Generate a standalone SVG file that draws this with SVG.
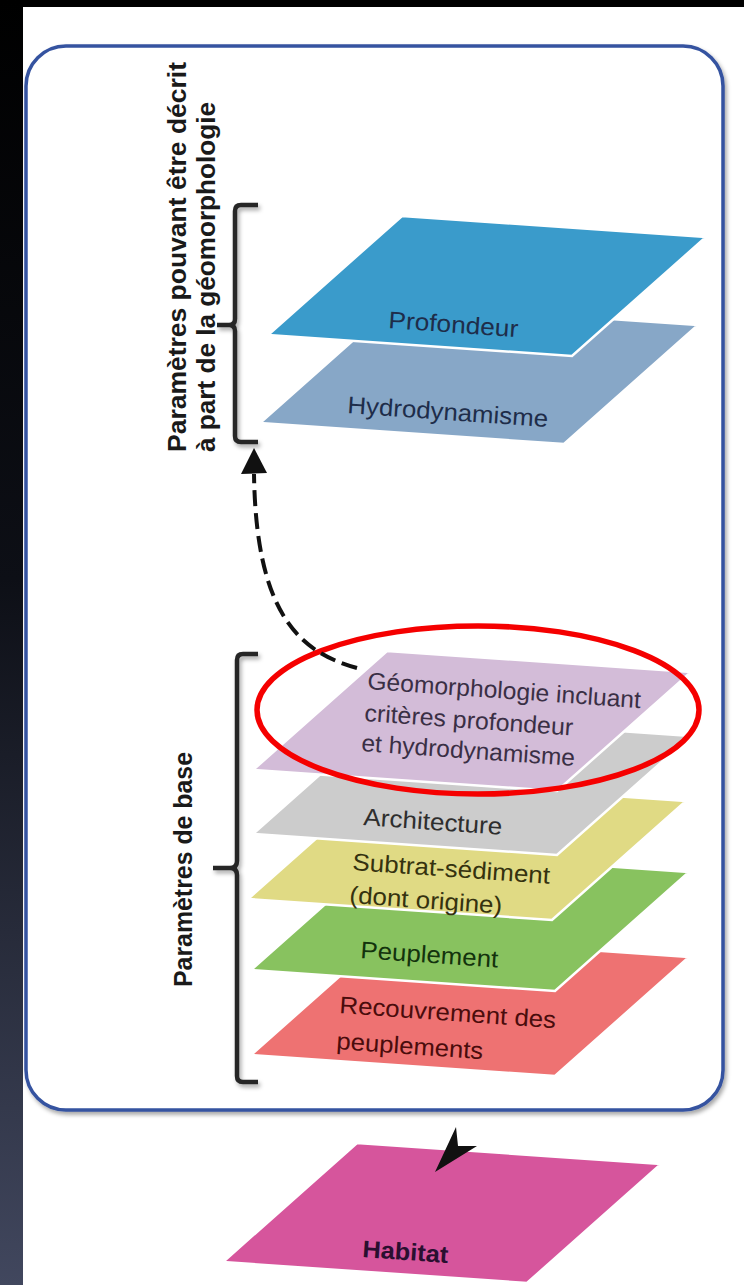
<svg xmlns="http://www.w3.org/2000/svg" width="744" height="1285" viewBox="0 0 744 1285">
<defs>
<linearGradient id="sideGrad" x1="0" y1="0" x2="0" y2="1">
<stop offset="0" stop-color="#000000"/>
<stop offset="0.45" stop-color="#0d0f16"/>
<stop offset="1" stop-color="#41475e"/>
</linearGradient>
<filter id="shadow" x="-20%" y="-20%" width="140%" height="140%">
<feDropShadow dx="2" dy="3" stdDeviation="2" flood-color="#000" flood-opacity="0.35"/>
</filter>
</defs>
<style>
.plane{stroke:#ffffff;stroke-width:2.5;stroke-linejoin:miter}
.lbl{font-family:"Liberation Sans",Arial,Helvetica,sans-serif;font-size:24px}
.vlbl{font-family:"Liberation Sans",Arial,Helvetica,sans-serif;font-size:26px;font-weight:bold;fill:#1a1a1a}
.brace{fill:none;stroke:#262626;stroke-width:4.5;stroke-linejoin:round;stroke-linecap:butt}
</style>

<!-- background -->
<rect x="0" y="0" width="744" height="1285" fill="#000"/>
<rect x="0" y="0" width="23" height="1285" fill="url(#sideGrad)"/>
<rect x="23" y="7" width="721" height="1278" fill="#ffffff"/>

<!-- container -->
<g id="container">
<rect x="26" y="46" width="697" height="1064" rx="40" ry="40" fill="#ffffff" stroke="#3553a0" stroke-width="3.5" filter="url(#shadow)"/>
</g>

<!-- lower stack (drawn back to front) -->
<g id="recouvrement">
<polygon class="plane" points="251,1055 385,936 689,957 555,1076" fill="#ee7272"/>
<text class="lbl" fill="#4a0c0c" transform="rotate(4 339 1013)" x="339" y="1013" textLength="217" lengthAdjust="spacingAndGlyphs">Recouvrement des</text>
<text class="lbl" fill="#4a0c0c" transform="rotate(4 336 1049)" x="336" y="1049" textLength="147" lengthAdjust="spacingAndGlyphs">peuplements</text>
</g>
<g id="peuplement">
<polygon class="plane" points="251,970 385,851 689,872 555,991" fill="#88c25f"/>
<text class="lbl" fill="#13330d" transform="rotate(4 360 958)" x="360" y="958" textLength="138" lengthAdjust="spacingAndGlyphs">Peuplement</text>
</g>
<g id="substrat">
<polygon class="plane" points="248,899 382,780 686,801 552,920" fill="#e0da84"/>
<text class="lbl" fill="#35320f" transform="rotate(4 352 870)" x="352" y="870" textLength="198" lengthAdjust="spacingAndGlyphs">Subtrat-sédiment</text>
<text class="lbl" fill="#35320f" transform="rotate(4 349 903)" x="349" y="903" textLength="153" lengthAdjust="spacingAndGlyphs">(dont origine)</text>
</g>
<g id="architecture">
<polygon class="plane" points="253,834 387,715 691,736 557,855" fill="#cccccc"/>
<text class="lbl" fill="#2e2e2e" transform="rotate(4 363 825)" x="363" y="825" textLength="139" lengthAdjust="spacingAndGlyphs">Architecture</text>
</g>
<g id="geomorphologie">
<polygon class="plane" points="253,770 387,651 691,672 557,791" fill="#d3bcd8"/>
<text class="lbl" fill="#3a2f45" transform="rotate(4 367 689)" x="367" y="689" textLength="274" lengthAdjust="spacingAndGlyphs">Géomorphologie incluant</text>
<text class="lbl" fill="#3a2f45" transform="rotate(4 364 721)" x="364" y="721" textLength="209" lengthAdjust="spacingAndGlyphs">critères profondeur</text>
<text class="lbl" fill="#3a2f45" transform="rotate(4 361 751)" x="361" y="751" textLength="214" lengthAdjust="spacingAndGlyphs">et hydrodynamisme</text>
</g>

<!-- upper stack -->
<g id="hydrodynamisme">
<polygon class="plane" points="260,423 394,304 698,325 564,444" fill="#87a7c7"/>
<text class="lbl" fill="#1e2d4a" transform="rotate(4 347 413)" x="347" y="413" textLength="201" lengthAdjust="spacingAndGlyphs">Hydrodynamisme</text>
</g>
<g id="profondeur">
<polygon class="plane" points="268,335 402,216 706,237 572,356" fill="#3a9bcb"/>
<text class="lbl" fill="#1e2d4a" transform="rotate(4 388 328)" x="388" y="328" textLength="130" lengthAdjust="spacingAndGlyphs">Profondeur</text>
</g>

<!-- habitat -->
<g id="habitat">
<polygon class="plane" points="223,1262 357,1143 661,1164 527,1283" fill="#d6559c"/>
<text class="lbl" fill="#2a0f30" font-weight="bold" font-size="22" transform="rotate(4 362 1257)" x="362" y="1257" textLength="86" lengthAdjust="spacingAndGlyphs">Habitat</text>
</g>

<!-- brackets and side labels -->
<g id="bracket-upper">
<path class="brace" filter="url(#shadow)" d="M258,205 H241 Q235,205 235,211 V319 Q235,325 229,325 H217 M229,325 Q235,325 235,331 V436 Q235,442 241,442 H258"/>
<text class="vlbl" transform="rotate(-90 186 452)" x="186" y="452" textLength="390" lengthAdjust="spacingAndGlyphs">Paramètres pouvant être décrit</text>
<text class="vlbl" transform="rotate(-90 215 452)" x="215" y="452" textLength="350" lengthAdjust="spacingAndGlyphs">à part de la géomorphologie</text>
</g>
<g id="bracket-lower">
<path class="brace" filter="url(#shadow)" d="M258,654 H243 Q237,654 237,660 V861 Q237,868 230,868 H213 M230,868 Q237,868 237,875 V1076 Q237,1082 243,1082 H258"/>
<text class="vlbl" font-size="25" transform="rotate(-90 192 987)" x="192" y="987" textLength="235" lengthAdjust="spacingAndGlyphs">Paramètres de base</text>
</g>

<!-- highlight ellipse -->
<g id="highlight">
<ellipse cx="478" cy="710" rx="221" ry="84" fill="none" stroke="#f50000" stroke-width="5.5"/>
</g>

<!-- connectors -->
<g id="connectors">
<path d="M357,668 C298,652 256,612 254,474" fill="none" stroke="#111" stroke-width="4" stroke-dasharray="16 7"/>
<polygon points="254,448 241,474 267,473" fill="#111"/>
<polygon points="435,1172 456,1127 458,1146 477,1146" fill="#111"/>
</g>
</svg>
